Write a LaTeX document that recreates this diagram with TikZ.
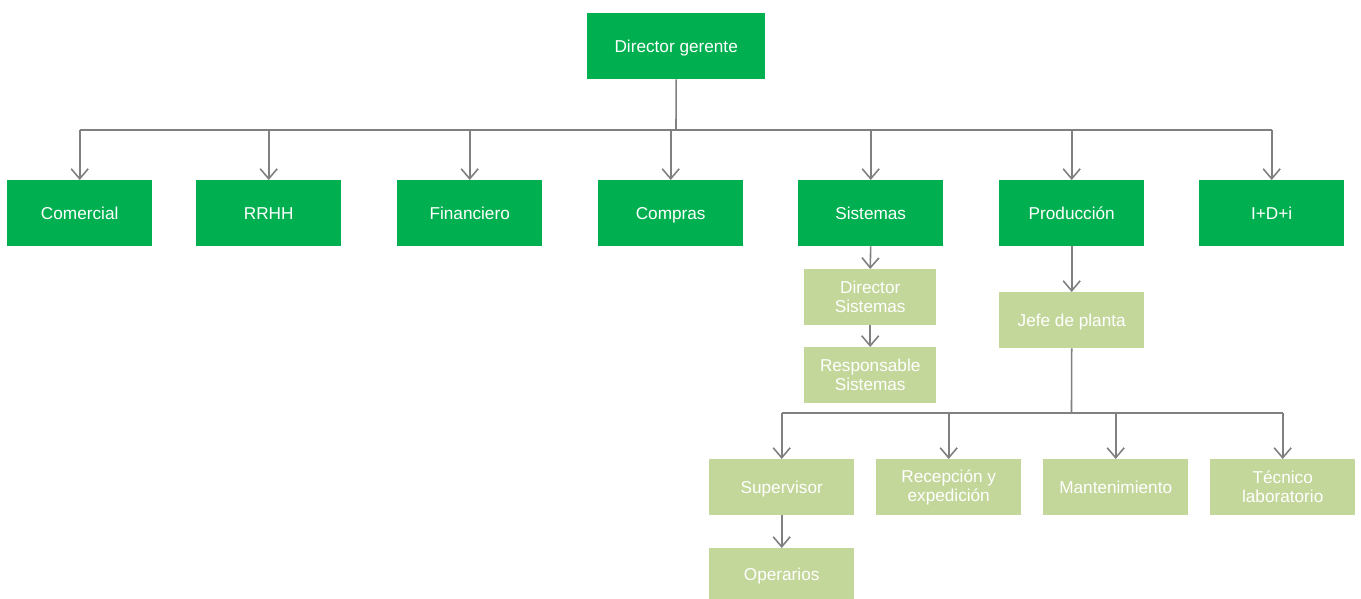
\documentclass[tikz,border=0pt]{standalone}
\usepackage{fontspec}
\setmainfont{Liberation Sans}
\usetikzlibrary{arrows.meta}
\definecolor{deptgreen}{HTML}{00B050}
\definecolor{subgreen}{HTML}{C4D79B}
\definecolor{linkgray}{HTML}{808080}
\begin{document}
\begin{tikzpicture}[x=1pt,y=-1pt,
  box/.style={minimum width=145pt,minimum height=66pt,inner sep=0pt,
    text=white,align=center,anchor=north west,
    font=\fontsize{17.2}{19}\selectfont},
  oneline/.style={text height=12.5pt,text depth=0pt},
  dept/.style={box,oneline,fill=deptgreen},
  unit/.style={box,fill=subgreen,minimum height=56pt},
  link/.style={draw=linkgray,line width=1.6pt},
  arr/.style={link,-{Straight Barb[length=10pt,width=17pt,line width=1.6pt]}}
]
\useasboundingbox (0,0) rectangle (1361,599);

% top management
\node[dept,minimum width=178pt] (dg) at (587,13) {Director gerente};

% departments
\node[dept] (com) at (7,180) {Comercial};
\node[dept] (rh)  at (196,180) {RRHH};
\node[dept] (fin) at (397,180) {Financiero};
\node[dept] (cmp) at (598,180) {Compras};
\node[dept] (sis) at (798,180) {Sistemas};
\node[dept] (pro) at (999,180) {Producción};
\node[dept] (idi) at (1199,180) {I+D+i};

% systems branch
\node[unit,minimum width=132pt] (dsis) at (804,269) {Director\\Sistemas};
\node[unit,minimum width=132pt] (rsis) at (804,347) {Responsable\\Sistemas};

% production branch
\node[unit,oneline] (jefe) at (999,292) {Jefe de planta};
\node[unit,oneline] (sup) at (709,459) {Supervisor};
\node[unit] (rec) at (876,459) {Recepción y\\expedición};
\node[unit,oneline] (man) at (1043,459) {Mantenimiento};
\node[unit] (tec) at (1210,459) {Técnico\\laboratorio};
\node[unit,oneline,minimum height=52pt] (ope) at (709,548) {Operarios};

% bus from the managing director
\coordinate (bus) at (676,130);
\draw[link] (dg.south) -- (bus);
\draw[link] (com.north |- bus) -- (idi.north |- bus);
\foreach \d in {com,rh,fin,cmp,sis,pro,idi}
  \draw[arr] (\d.north |- bus) -- (\d.north);

% systems chain
\draw[arr] (sis.south) -- (dsis.north);
\draw[arr] (dsis.south) -- (rsis.north);

% production chain
\draw[arr] (pro.south) -- (jefe.north);
\coordinate (pbus) at (1071.5,413);
\draw[link] (jefe.south) -- (pbus);
\draw[link] (sup.north |- pbus) -- (tec.north |- pbus);
\foreach \d in {sup,rec,man,tec}
  \draw[arr] (\d.north |- pbus) -- (\d.north);
\draw[arr] (sup.south) -- (ope.north);
\end{tikzpicture}
\end{document}
